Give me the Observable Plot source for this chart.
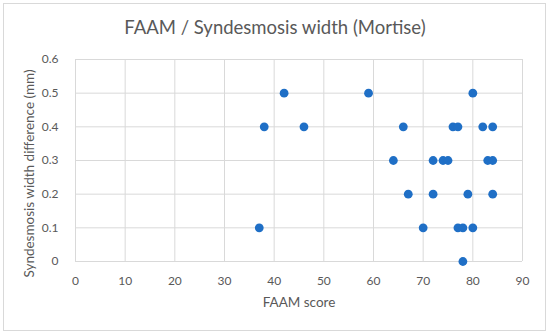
<!DOCTYPE html>
<html>
<head>
<meta charset="utf-8">
<script src="https://cdn.jsdelivr.net/npm/d3@7"></script>
<script src="https://cdn.jsdelivr.net/npm/@observablehq/plot@0.6"></script>
<style>
  html, body { margin: 0; padding: 0; background: #fff; }
  #wrap { position: relative; width: 550px; height: 333px; overflow: hidden; font-family: Lato, "Open Sans", sans-serif; }
  #border { position: absolute; left: 3px; top: 3px; width: 543px; height: 328px; border: 1px solid #d9d9d9; box-sizing: border-box; pointer-events: none; }
  #title { position: absolute; left: 0; top: 16px; width: 550px; text-align: center; font-size: 18.5px; color: #595959; }
  #chart { position: absolute; left: 0; top: 50px; }
</style>
</head>
<body>
<div id="wrap">
  <div id="border"></div>
  <div id="title">FAAM / Syndesmosis width (Mortise)</div>
  <div id="chart"></div>
</div>
<script>
const faamScore = [42, 59, 80, 38, 46, 66, 76, 77, 82, 84, 64, 72, 74, 75, 83, 84, 67, 72, 79, 84, 37, 70, 77, 78, 80, 78];
const widthDiff = [0.5, 0.5, 0.5, 0.4, 0.4, 0.4, 0.4, 0.4, 0.4, 0.4, 0.3, 0.3, 0.3, 0.3, 0.3, 0.3, 0.2, 0.2, 0.2, 0.2, 0.1, 0.1, 0.1, 0.1, 0.1, 0];
const xTicks = [0, 10, 20, 30, 40, 50, 60, 70, 80, 90];
const yTicks = [0, 0.1, 0.2, 0.3, 0.4, 0.5, 0.6];
const xLabel = "FAAM score";
const yLabel = "Syndesmosis width difference (mm)";

const data = faamScore.map((x, i) => ({x, y: widthDiff[i]}));

const chart = Plot.plot({
  width: 550,
  height: 283,
  marginTop: 9,
  marginBottom: 72,
  marginLeft: 75,
  marginRight: 28,
  style: { fontFamily: "Lato, 'Open Sans', sans-serif", fontSize: "12px", color: "#595959", background: "transparent", overflow: "visible" },
  x: { domain: [0, 90], ticks: xTicks },
  y: { domain: [0, 0.6], ticks: yTicks },
  marks: [
    Plot.gridX(xTicks, { stroke: "#d9d9d9", strokeOpacity: 1, strokeWidth: 1 }),
    Plot.gridY(yTicks, { stroke: "#d9d9d9", strokeOpacity: 1, strokeWidth: 1 }),
    Plot.axisX(xTicks, { tickSize: 0, tickPadding: 15, fill: "#595959", label: null, fontSize: 12 }),
    Plot.axisY(yTicks, { tickSize: 0, tickPadding: 17, fill: "#595959", tickFormat: d => String(d), label: null, fontSize: 12 }),
    Plot.text([xLabel], { text: d => d, frameAnchor: "bottom", textAnchor: "middle", dy: 41, lineAnchor: "middle", fontSize: 13.5, fill: "#595959" }),
    Plot.text([yLabel], { text: d => d, frameAnchor: "left", textAnchor: "middle", rotate: -90, dx: -46, dy: 13, lineAnchor: "middle", fontSize: 13.5, fill: "#595959" }),
    Plot.dot(data, { x: "x", y: "y", r: 4.4, fill: "#1f6fc6", stroke: "none" })
  ]
});
document.getElementById("chart").appendChild(chart);
</script>
</body>
</html>
